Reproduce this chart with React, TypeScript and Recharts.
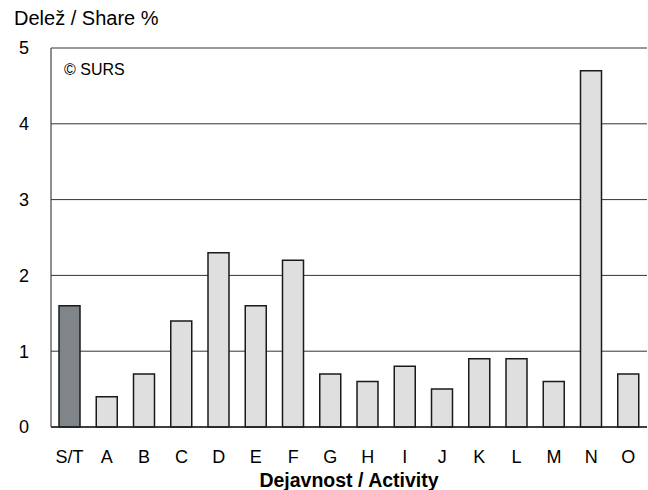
import React from 'react';
import { BarChart, Bar, XAxis, YAxis, CartesianGrid, Cell } from 'recharts';

const categories = ['S/T', 'A', 'B', 'C', 'D', 'E', 'F', 'G', 'H', 'I', 'J', 'K', 'L', 'M', 'N', 'O'];
const shareValues = [1.6, 0.4, 0.7, 1.4, 2.3, 1.6, 2.2, 0.7, 0.6, 0.8, 0.5, 0.9, 0.9, 0.6, 4.7, 0.7];
const yTicks = [0, 1, 2, 3, 4, 5];

const data = categories.map((c, i) => ({ name: c, value: shareValues[i] }));

const FONT = '"Liberation Sans", Arial, sans-serif';

const YTick = (props: any) => {
  const { y, payload } = props;
  return (
    <text x={29} y={y} dy="0.36em" textAnchor="end" fontFamily={FONT} fontSize={18} fill="#000">
      {payload.value}
    </text>
  );
};

const XTick = (props: any) => {
  const { x, payload } = props;
  return (
    <text x={x} y={462.5} textAnchor="middle" fontFamily={FONT} fontSize={18} fill="#000">
      {payload.value}
    </text>
  );
};

export default function App() {
  return (
    <div style={{ position: 'absolute', left: 0, top: 0, width: 648, height: 490, background: '#fff' }}>
      <BarChart
        width={648}
        height={490}
        data={data}
        margin={{ top: 48, right: 1, left: 0, bottom: 0 }}
        barSize={21}
      >
        <CartesianGrid horizontal vertical={false} stroke="#333" strokeWidth={1} />
        <XAxis
          dataKey="name"
          height={63}
          axisLine={{ stroke: '#222', strokeWidth: 1.5 }}
          tickLine={false}
          tick={<XTick />}
          interval={0}
        />
        <YAxis
          domain={[0, 5]}
          ticks={yTicks}
          width={51}
          axisLine={{ stroke: '#444', strokeWidth: 1.2 }}
          tickLine={false}
          tick={<YTick />}
          interval={0}
        />
        <Bar dataKey="value" stroke="#1a1a1a" strokeWidth={1.5} isAnimationActive={false}>
          {data.map((d, i) => (
            <Cell key={d.name} fill={i === 0 ? '#7f8588' : '#dfdfdf'} />
          ))}
        </Bar>
      </BarChart>
      <svg
        width={648}
        height={490}
        style={{ position: 'absolute', left: 0, top: 0, pointerEvents: 'none' }}
      >
        <text x={14} y={25} fontFamily={FONT} fontSize={20} fill="#000">Delež / Share %</text>
        <text x={64} y={75} fontFamily={FONT} fontSize={16} fill="#000">© SURS</text>
        <text x={349} y={487} textAnchor="middle" fontFamily={FONT} fontSize={19.5} fontWeight="bold" fill="#000">
          Dejavnost / Activity
        </text>
      </svg>
    </div>
  );
}
